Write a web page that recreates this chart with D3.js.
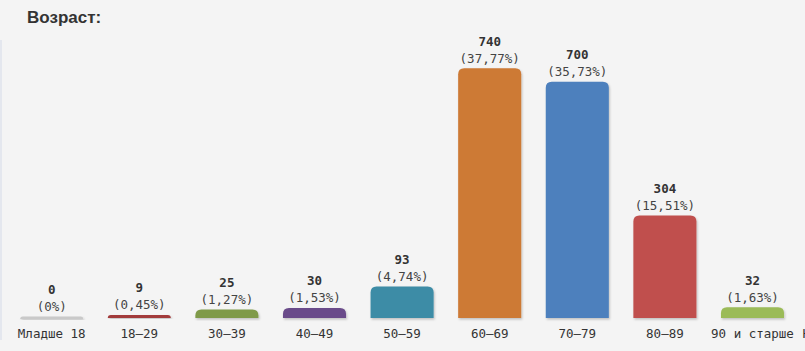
<!DOCTYPE html>
<html><head><meta charset="utf-8">
<script src="https://cdn.jsdelivr.net/npm/d3@7"></script>
<style>
html,body{margin:0;padding:0;background:#f4f4f4;overflow:hidden;}
svg{display:block;}
</style></head>
<body>
<svg id="chart" width="805" height="351"></svg>
<script>
const categories = ["Младше 18","18–29","30–39","40–49","50–59","60–69","70–79","80–89","90 и старше","Нет данных"];
const counts = [0, 9, 25, 30, 93, 740, 700, 304, 32, 26];
const percents = ["0%","0,45%","1,27%","1,53%","4,74%","37,77%","35,73%","15,51%","1,63%","1,33%"];
const colors = ["#c9c9c9","#a23b3b","#7f9a48","#6a4c8a","#3c8ca6","#cd7a36","#4e80bd","#c0504d","#9bbb59","#c4c4c4"];

const svg = d3.select("#chart");
svg.append("rect").attr("width",805).attr("height",351).attr("fill","#f4f4f4");
svg.append("rect").attr("x",0).attr("y",40).attr("width",2).attr("height",300).attr("fill","#e4e7ee");

const defs = svg.append("defs");
const f = defs.append("filter").attr("id","sh").attr("x","-10%").attr("y","-10%").attr("width","130%").attr("height","140%");
f.append("feDropShadow").attr("dx",1).attr("dy",1.5).attr("stdDeviation",1.2).attr("flood-color","#000").attr("flood-opacity",0.22);

svg.append("text").attr("x",27).attr("y",23)
  .attr("font-family","Liberation Sans, Arial, sans-serif").attr("font-weight","bold")
  .attr("font-size",17).attr("fill","#333").text("Возраст:");

const x = d3.scaleBand().domain(categories).range([7.9, 883.9]).paddingInner(0.28).paddingOuter(0.14);
const y = d3.scaleLinear().domain([0, 740]).range([318, 68.3]);

const mono = "DejaVu Sans Mono, monospace";
const g = svg.append("g");
categories.forEach((c,i)=>{
  const bw = x.bandwidth();
  const x0 = x(c);
  let top = y(counts[i]);
  let h = 318 - top;
  if (h < 2.5) { h = 2.5; top = 318 - h + 1; }
  const r = Math.min(6, h);
  const p = d3.path();
  const b = top + h;
  p.moveTo(x0, b);
  p.lineTo(x0, top + r);
  p.quadraticCurveTo(x0, top, x0 + r, top);
  p.lineTo(x0 + bw - r, top);
  p.quadraticCurveTo(x0 + bw, top, x0 + bw, top + r);
  p.lineTo(x0 + bw, b);
  p.closePath();
  g.append("path").attr("d", p.toString()).attr("fill", colors[i]).attr("filter","url(#sh)");
  const cx = x0 + bw/2;
  const t = Math.min(y(counts[i]), 316);
  g.append("text").attr("x",cx).attr("y",t-22.5).attr("text-anchor","middle")
    .attr("font-family",mono).attr("font-size",12.5).attr("font-weight","bold").attr("fill","#333").text(counts[i]);
  g.append("text").attr("x",cx).attr("y",t-5.5).attr("text-anchor","middle")
    .attr("font-family",mono).attr("font-size",12.5).attr("fill","#444").text("(" + percents[i] + ")");
  g.append("text").attr("x",cx).attr("y",338).attr("text-anchor","middle")
    .attr("font-family",mono).attr("font-size",12.5).attr("fill","#333").text(c);
});
</script>
</body></html>
